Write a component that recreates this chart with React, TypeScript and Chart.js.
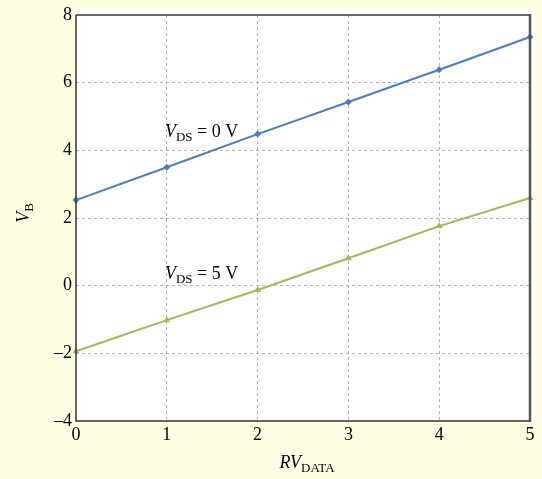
import React, { useEffect, useRef } from "react";
import { Chart, registerables } from "chart.js";

Chart.register(...registerables);

const xValues = [0, 1, 2, 3, 4, 5];
const vds0Values = [2.53, 3.5, 4.48, 5.43, 6.38, 7.35];
const vds5Values = [-1.94, -1.02, -0.13, 0.81, 1.76, 2.59];
const yTicks = [-4, -2, 0, 2, 4, 6, 8];
const xTicks = [0, 1, 2, 3, 4, 5];

const SERIF = "'Liberation Serif', 'DejaVu Serif', serif";
const BG = "rgb(254,253,226)";

type Part = { text: string; italic?: boolean; sub?: boolean };

function drawParts(ctx: CanvasRenderingContext2D, x: number, y: number, parts: Part[], size: number) {
  let cx = x;
  for (const p of parts) {
    const fs = p.sub ? size * 0.72 : size;
    ctx.font = `${p.italic ? "italic " : ""}${fs}px ${SERIF}`;
    ctx.fillText(p.text, cx, p.sub ? y + size * 0.22 : y);
    cx += ctx.measureText(p.text).width;
  }
  return cx - x;
}

function measureParts(ctx: CanvasRenderingContext2D, parts: Part[], size: number) {
  let w = 0;
  for (const p of parts) {
    const fs = p.sub ? size * 0.72 : size;
    ctx.font = `${p.italic ? "italic " : ""}${fs}px ${SERIF}`;
    w += ctx.measureText(p.text).width;
  }
  return w;
}

const decorPlugin = {
  id: "decor",
  beforeDraw(chart: any) {
    const { ctx, chartArea: a, width, height } = chart;
    ctx.save();
    ctx.fillStyle = BG;
    ctx.fillRect(0, 0, width, height);
    ctx.fillStyle = "#ffffff";
    ctx.fillRect(a.left, a.top - 6, a.right - a.left + 5, a.bottom - a.top + 6);
    ctx.restore();
  },
  afterDraw(chart: any) {
    const { ctx, chartArea: a, scales } = chart;
    ctx.save();
    // frame
    ctx.strokeStyle = "#333333";
    ctx.lineWidth = 1.5;
    ctx.beginPath();
    ctx.moveTo(a.left, a.top);
    ctx.lineTo(a.right, a.top);
    ctx.moveTo(a.left, a.top);
    ctx.lineTo(a.left, a.bottom);
    ctx.lineTo(a.right, a.bottom);
    ctx.stroke();
    ctx.strokeStyle = "#555555";
    ctx.lineWidth = 2.5;
    ctx.beginPath();
    ctx.moveTo(a.right, a.top - 1);
    ctx.lineTo(a.right, a.bottom + 1);
    ctx.stroke();

    ctx.fillStyle = "#000000";
    ctx.textBaseline = "alphabetic";
    ctx.textAlign = "left";
    const size = 18;
    // annotations
    const xs = scales.x;
    const ys = scales.y;
    const ann1: Part[] = [
      { text: "V", italic: true },
      { text: "DS", sub: true },
      { text: " = 0 V" },
    ];
    const ann2: Part[] = [
      { text: "V", italic: true },
      { text: "DS", sub: true },
      { text: " = 5 V" },
    ];
    drawParts(ctx, xs.getPixelForValue(0.98), ys.getPixelForValue(4.4), ann1, size);
    drawParts(ctx, xs.getPixelForValue(0.98), ys.getPixelForValue(0.2), ann2, size);

    // x title
    const xt: Part[] = [
      { text: "RV", italic: true },
      { text: "DATA", sub: true },
    ];
    const wx = measureParts(ctx, xt, size);
    drawParts(ctx, (a.left + a.right) / 2 - wx / 2 + 4, 468, xt, size);

    // y title
    const yt: Part[] = [
      { text: "V", italic: true },
      { text: "B", sub: true },
    ];
    const wy = measureParts(ctx, yt, size);
    ctx.translate(29, 213);
    ctx.rotate(-Math.PI / 2);
    drawParts(ctx, -wy / 2, 0, yt, size);
    ctx.restore();
  },
};

export default function App() {
  const ref = useRef<HTMLCanvasElement>(null);
  useEffect(() => {
    document.body.style.margin = "0";
    const canvas = ref.current!;
    const chart = new Chart(canvas, {
      type: "line",
      data: {
        datasets: [
          {
            label: "VDS = 0 V",
            data: xValues.map((x, i) => ({ x, y: vds0Values[i] })),
            borderColor: "#4A7EBB",
            backgroundColor: "#4A7EBB",
            borderWidth: 2,
            pointStyle: "rectRot",
            pointRadius: 3.5,
            pointBorderWidth: 0,
            tension: 0,
            clip: 6,
          },
          {
            label: "VDS = 5 V",
            data: xValues.map((x, i) => ({ x, y: vds5Values[i] })),
            borderColor: "#9BBB59",
            backgroundColor: "#9BBB59",
            borderWidth: 2,
            pointStyle: "triangle",
            pointRadius: 4,
            pointBorderWidth: 0,
            tension: 0,
            clip: 6,
          },
        ],
      },
      options: {
        responsive: false,
        animation: false,
        layout: { padding: { left: 0, top: 15, right: 12, bottom: 0 } },
        plugins: { legend: { display: false }, tooltip: { enabled: false } },
        scales: {
          x: {
            type: "linear",
            min: 0,
            max: 5,
            afterFit: (s: any) => {
              s.height = 58;
            },
            afterBuildTicks: (s: any) => {
              s.ticks = xTicks.map((v) => ({ value: v }));
            },
            ticks: {
              stepSize: 1,
              padding: 3,
              color: "#000",
              font: { family: SERIF, size: 18 },
              maxRotation: 0,
            },
            grid: {
              drawTicks: false,
              color: (c: any) => (c.tick && (c.tick.value === 0 || c.tick.value === 5) ? "rgba(0,0,0,0)" : "#b4b4b4"),
              lineWidth: 1,
            },
            border: { display: false, dash: [3, 3] },
          },
          y: {
            type: "linear",
            min: -4,
            max: 8,
            afterFit: (s: any) => {
              s.width = 76;
            },
            afterBuildTicks: (s: any) => {
              s.ticks = yTicks.map((v) => ({ value: v }));
            },
            ticks: {
              stepSize: 2,
              padding: 4,
              color: "#000",
              font: { family: SERIF, size: 18 },
              callback: (v: any) => (Number(v) < 0 ? "\u2013" + Math.abs(Number(v)) : String(v)),
            },
            grid: {
              drawTicks: false,
              color: (c: any) => (c.tick && (c.tick.value === -4 || c.tick.value === 8) ? "rgba(0,0,0,0)" : "#b4b4b4"),
              lineWidth: 1,
            },
            border: { display: false, dash: [3, 3] },
          },
        },
      } as any,
      plugins: [decorPlugin],
    });
    return () => chart.destroy();
  }, []);
  return (
    <div style={{ width: 542, height: 479 }}>
      <canvas ref={ref} width={542} height={479} style={{ display: "block" }} />
    </div>
  );
}
